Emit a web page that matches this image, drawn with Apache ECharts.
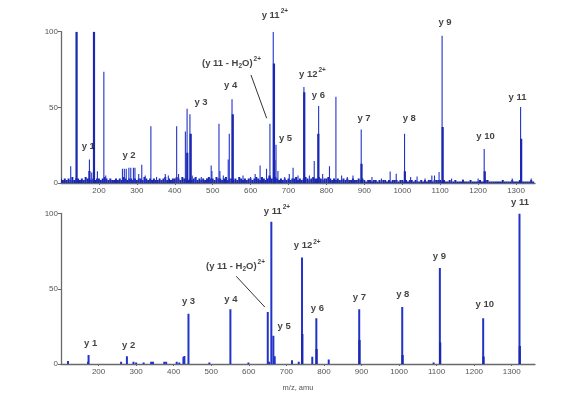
<!DOCTYPE html>
<html>
<head>
<meta charset="utf-8">
<script src="https://cdn.jsdelivr.net/npm/echarts@6/dist/echarts.min.js"></script>
<style>
html,body{margin:0;padding:0;background:#fff;}
#chart{width:566px;height:393px;}
</style>
</head>
<body>
<div id="chart"></div>
<script>
// ---------- DATA ----------
const xTicksTop = [200,300,400,500,600,700,800,900,1000,1100,1200,1300];
const yTicks = [0,50,100];

// Top spectrum: main peaks [m/z, rel. intensity]
const peaksTop = [
  [125.6,11],[141,100],[175,15.6],[181,7],[187,100],[196,7.8],[213,73.5],[218,5],
  [262,9.5],[267,9.5],[272,9.5],[279,10],[284,10],[291,10],[295,10],[305,6],[313,12],[322,5],
  [337,37.5],[352,4],[375,6],[383,5],[405,37.5],[410,6],[428,34],[432.5,49],[440,45.4],[446,5],
  [455,4],[470,4],[485,3],[496,11.6],[498,8],[516.6,39.2],[519,8],[528,5],[541,15.6],[543.8,32.6],
  [551,55.4],[580,5],[600,4],[612,6],[625,11.6],[642,9.4],[651,39.2],[659.7,100],[667,25.3],[672,8],
  [690,4],[702,6],[712,10],[725,5],[740.6,63.5],[755,5],[767.8,14.5],[779.4,50.9],[790,6],[808,11.1],
  [825,57],[840,5],[855,4],[870,5],[891.7,35.3],[920,4],[945,3],[968,7.6],[984,6.1],[1006,32.6],
  [1022,4],[1039,4.3],[1060,3],[1078,4.9],[1085,5],[1097,7.2],[1105,97.3],[1130,3],[1160,2.5],
  [1200,3],[1216,22.5],[1290,3],[1312,50.3],[1340,3]
];
// Top spectrum: stronger (darker) sub-peaks
const shouldersTop = [
  [141,100],[187,100],[175,8],[433,20],[442,32.6],[553,45.4],[650,5],[661.6,79],[662.5,15],
  [741.5,60],[778.5,32.6],[892.5,12.7],[1006.8,7.8],[1106.5,37],[1217.5,7.8],[1313.5,29.3]
];
// Top spectrum: baseline noise, m/z 100..1345 in steps of 5
const noiseStart = 100, noiseStep = 5;
const noiseTop = [
  3,2,3,2,3,2,4,2,3,3,2,3,2,4,3,3,2,3,2,3,
  3,2,3,4,3,2,3,2,2,3,2,3,2,4,3,2,3,3,2,3,
  2,3,3,2,4,3,2,3,2,3,2,2,3,2,3,4,2,3,2,3,
  3,4,3,2,4,3,3,2,3,2,3,4,2,3,2,3,2,3,4,3,
  3,2,4,3,3,2,3,4,2,3,3,2,3,2,4,3,2,3,2,3,
  3,2,3,4,3,2,4,3,2,3,4,3,3,4,3,2,3,2,3,2,
  3,2,3,3,4,2,3,2,3,4,3,2,3,4,3,3,4,3,2,3,
  3,4,3,2,3,2,3,2,2,3,2,3,2,2,3,2,2,3,2,3,
  2,1,2,2,1,2,2,1,2,1,2,2,1,2,1,2,2,2,1,2,
  2,1,2,1,2,2,1,2,1,1,2,1,2,1,2,2,1,2,2,2,
  2,1,2,1,1,2,1,1,2,1,1,1,2,1,1,1,2,1,1,1,
  1,2,1,1,2,2,1,1,1,1,1,1,1,2,1,1,1,1,2,1,
  1,1,2,1,1,1,1,1,2,1
];

// Bottom spectrum
const peaksBottom = [
  [118.6,2],[172,1.5],[173.4,5.9],[260,1.5],[275.5,5.1],[293,1.5],[300,1],[320,1],[340,1.5],[345,1.5],
  [375,1.5],[380,1.5],[408,1.5],[415,1],[426,4.7],[428.5,5.3],[439.4,33.4],[495,1],[551,36.3],[599,1],
  [650.5,34.5],[654,1.5],[660,94.6],[665.4,18.7],[669,5.1],[715,2.5],[733,1.5],[741.7,70.8],[769,4.8],
  [779.8,30.4],[812.8,3],[894,36.3],[1008.5,37.8],[1092,1],[1108.7,63.8],[1224,30.4],[1320.7,100]
];
const shouldersBottom = [
  [742.5,20],[780.5,10],[894.8,16],[1009.5,6],[1109.5,14.3],[1225,5],[1321.5,12]
];

// Annotations: [label, superscript, m/z, intensity]
const labelsTop = [
  ['y 1','',172,24],['y 2','',279.3,18.5],['y 3','',469.2,53.1],['y 4','',547.5,64.3],
  ['H2O','',549.6,79.3],['y 11','2+',664,111],['y 5','',692,29.5],['y 12','2+',763,72],
  ['y 6','',779,58.2],['y 7','',899,42.8],['y 8','',1018.5,42.8],['y 9','',1112.7,106.2],
  ['y 10','',1219.5,30.6],['y 11','',1303.9,56.6]
];
const labelsBottom = [
  ['y 1','',178.8,13.7],['y 2','',279.9,12.5],['y 3','',439.5,41.4],['y 4','',552.4,43.1],
  ['H2O','',564.6,64.9],['y 11','2+',674.8,101.2],['y 5','',694.2,25.1],['y 12','2+',755.4,78.5],
  ['y 6','',782.5,37],['y 7','',894.6,44],['y 8','',1010,46.2],['y 9','',1107.4,71.3],
  ['y 10','',1228.2,39.6],['y 11','',1322.2,107.4]
];
const pointerTop = [[601,71.4],[642.4,42.8]];
const pointerBottom = [[566.5,58.3],[642.8,37.8]];

// ---------- CHART ----------
const FONT = '"Liberation Sans", Arial, Helvetica, sans-serif';
const BLUE = '#2233c8';
const DARK = '#1a27b0';

const noisePts = noiseTop.map((v,i)=>[noiseStart + i*noiseStep, v]);

function stick(width, color){
  return function(params, api){
    const x = api.value(0), v = api.value(1);
    const p0 = api.coord([x,0]);
    const p1 = api.coord([x,v]);
    return {type:'rect', shape:{x:p0[0]-width/2, y:p1[1], width:width, height:p0[1]-p1[1]}, style:{fill:color}};
  };
}
function stickSeries(idx, data, width, color){
  return {type:'custom', xAxisIndex:idx, yAxisIndex:idx, data:data, renderItem:stick(width,color), clip:true, silent:true, z:2};
}
function richText(l){
  if (l[0]==='H2O') return '{m|(y 11 - H}{b|2}{m|O)}{s|2+}';
  return '{m|'+l[0]+'}' + (l[1] ? '{s|'+l[1]+'}' : '');
}
function labelSeries(idx, labels){
  return {
    type:'scatter', xAxisIndex:idx, yAxisIndex:idx, symbolSize:0, clip:false, silent:true, z:5,
    data: labels.map(l=>({value:[l[2],l[3]], t:richText(l)})),
    label:{
      show:true, position:'inside', align:'center', verticalAlign:'middle',
      formatter:p=>p.data.t,
      rich:{
        m:{fontFamily:FONT, fontSize:9.5, fontWeight:'bold', color:'#111'},
        s:{fontFamily:FONT, fontSize:6.5, fontWeight:'bold', color:'#111', padding:[0,0,8,1]},
        b:{fontFamily:FONT, fontSize:6.5, fontWeight:'bold', color:'#111', padding:[6,0,0,0]}
      }
    }
  };
}
function pointerSeries(idx, pts){
  return {type:'line', xAxisIndex:idx, yAxisIndex:idx, data:pts, symbol:'none', silent:true,
    lineStyle:{color:'#333', width:1}, clip:false, z:4};
}
function xAxisCfg(idx, max, withName){
  const a = {
    type:'value', gridIndex:idx, min:100, max:max, interval:100,
    axisLine:{show:true, onZero:false, lineStyle:{color:'#6a6a6a', width:1.3}},
    axisTick:{show:true, length:2, lineStyle:{color:'#6a6a6a'}},
    splitLine:{show:false},
    axisLabel:{show:true, showMinLabel:false, showMaxLabel:false, fontSize:8, color:'#555', margin:4,
      fontFamily:FONT, formatter:v=>String(v)}
  };
  if (withName){
    a.name = 'm/z, amu'; a.nameLocation='middle'; a.nameGap=20;
    a.nameTextStyle = {fontSize:7.5, color:'#555', fontFamily:FONT};
  }
  return a;
}
function yAxisCfg(idx){
  return {
    type:'value', gridIndex:idx, min:0, max:100, interval:50,
    axisLine:{show:true, lineStyle:{color:'#6a6a6a', width:1.3}},
    axisTick:{show:true, length:3, lineStyle:{color:'#6a6a6a'}},
    splitLine:{show:false},
    axisLabel:{fontSize:8, color:'#555', margin:3, fontFamily:FONT, formatter:v=>String(v)}
  };
}

const chart = echarts.init(document.getElementById('chart'), null, {renderer:'canvas'});
chart.setOption({
  animation:false,
  backgroundColor:'#fff',
  grid:[
    {left:61, right:31, top:31.7, height:151.3},
    {left:61, right:31, top:213.5, height:151.5}
  ],
  xAxis:[ xAxisCfg(0,1350,false), xAxisCfg(1,1362,true) ],
  yAxis:[ yAxisCfg(0), yAxisCfg(1) ],
  series:[
    stickSeries(0, noisePts, 2, DARK),
    stickSeries(0, peaksTop, 1.1, BLUE),
    stickSeries(0, shouldersTop, 2.2, DARK),
    stickSeries(1, peaksBottom, 2, BLUE),
    stickSeries(1, shouldersBottom, 2.2, DARK),
    pointerSeries(0, pointerTop),
    pointerSeries(1, pointerBottom),
    labelSeries(0, labelsTop),
    labelSeries(1, labelsBottom)
  ]
});
</script>
</body>
</html>
